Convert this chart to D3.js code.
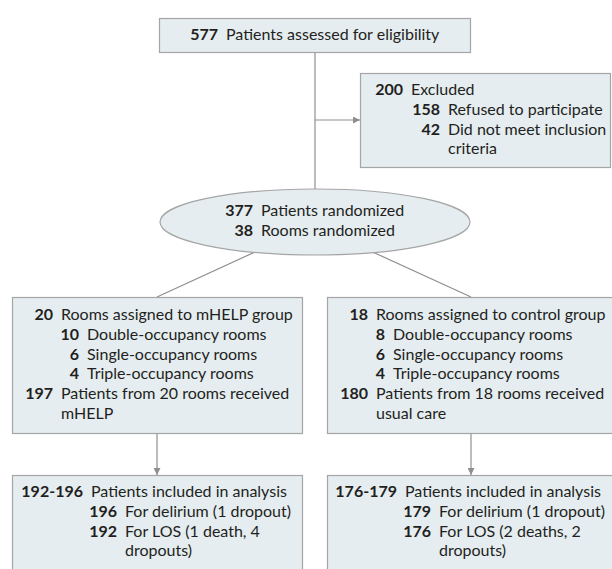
<!DOCTYPE html>
<html>
<head>
<meta charset="utf-8">
<script src="https://cdn.jsdelivr.net/npm/d3@7"></script>
<style>
  body { margin: 0; background: #fff; }
  svg text { font-family: Lato, "Open Sans", sans-serif; font-size: 16px; fill: #231f20; }
  svg text.num { font-weight: bold; text-anchor: end; }
</style>
</head>
<body>
<div id="chart"></div>
<script>
// Flow data: [count, label, level]  ("\n" = wrapped line in the picture)
var assessed = [["577", "Patients assessed for eligibility", 0]];
var excluded = [
    ["200", "Excluded", 0],
    ["158", "Refused to participate", 1],
    ["42", "Did not meet inclusion\ncriteria", 1]
];
var randomized = [
    ["377", "Patients randomized", 0],
    ["38", "Rooms randomized", 0]
];
var helpGroup = [
    ["20", "Rooms assigned to mHELP group", 0],
    ["10", "Double-occupancy rooms", 1],
    ["6", "Single-occupancy rooms", 1],
    ["4", "Triple-occupancy rooms", 1],
    ["197", "Patients from 20 rooms received\nmHELP", 0]
];
var controlGroup = [
    ["18", "Rooms assigned to control group", 0],
    ["8", "Double-occupancy rooms", 1],
    ["6", "Single-occupancy rooms", 1],
    ["4", "Triple-occupancy rooms", 1],
    ["180", "Patients from 18 rooms received\nusual care", 0]
];
var helpAnalysis = [
    ["192-196", "Patients included in analysis", 0],
    ["196", "For delirium (1 dropout)", 1],
    ["192", "For LOS (1 death, 4\ndropouts)", 1]
];
var controlAnalysis = [
    ["176-179", "Patients included in analysis", 0],
    ["179", "For delirium (1 dropout)", 1],
    ["176", "For LOS (2 deaths, 2\ndropouts)", 1]
];

//Setup
var width = 612, height = 569;
var boxFill = "#e5edf1", boxStroke = "#a5a5a5", lineColor = "#8f8f8f";
var lineH = 19.8;

var svg = d3.select("#chart").append("svg")
    .attr("width", width)
    .attr("height", height);

// layout: box rect, first baseline, number right edge per level
var layout = {
    assessed:  { x: 159, y: 18, w: 311, h: 34, base: 40, num: [218, 218] },
    excluded:  { x: 360, y: 73, w: 250, h: 94, base: 95, num: [403, 440] },
    helpGroup: { x: 12, y: 297, w: 290, h: 136, base: 320, num: [53, 79] },
    controlGroup: { x: 327, y: 297, w: 288, h: 136, base: 320, num: [368, 385] },
    helpAnalysis: { x: 12, y: 475, w: 290, h: 100, base: 497, num: [83, 117] },
    controlAnalysis: { x: 327, y: 475, w: 288, h: 100, base: 497, num: [397, 431] },
    randomized: { cx: 315, cy: 222, rx: 155, ry: 33, base: 216, num: [253, 253] }
};

// connectors first so boxes sit on top
var defs = svg.append("defs");
defs.append("marker")
    .attr("id", "arrow")
    .attr("viewBox", "0 0 10 10")
    .attr("refX", 10).attr("refY", 5)
    .attr("markerWidth", 7).attr("markerHeight", 7)
    .attr("markerUnits", "userSpaceOnUse")
    .attr("orient", "auto")
    .append("path")
    .attr("d", "M0,0 L10,5 L0,10 Z")
    .attr("fill", lineColor);

var links = svg.append("g").attr("stroke", lineColor).attr("stroke-width", 1.2).attr("fill", "none");
var R = layout.randomized;
links.append("line").attr("x1", 315).attr("y1", 52).attr("x2", 315).attr("y2", R.cy - R.ry);
links.append("line").attr("x1", 315).attr("y1", 120).attr("x2", 360).attr("y2", 120)
    .attr("marker-end", "url(#arrow)");

function ellipseY(x) {
    var dx = (x - R.cx) / R.rx;
    return R.cy + R.ry * Math.sqrt(1 - dx * dx);
}
var lx = 256, rx = 372;
links.append("line").attr("x1", lx).attr("y1", ellipseY(lx) - 1).attr("x2", 157).attr("y2", 297);
links.append("line").attr("x1", rx).attr("y1", ellipseY(rx) - 1).attr("x2", 471).attr("y2", 297);
links.append("line").attr("x1", 157).attr("y1", 433).attr("x2", 157).attr("y2", 475)
    .attr("marker-end", "url(#arrow)");
links.append("line").attr("x1", 471).attr("y1", 433).attr("x2", 471).attr("y2", 475)
    .attr("marker-end", "url(#arrow)");

function drawBox(rows, L) {
    var g = svg.append("g");
    g.append("rect")
        .attr("x", L.x + 0.5).attr("y", L.y + 0.5)
        .attr("width", L.w).attr("height", L.h)
        .attr("fill", boxFill).attr("stroke", boxStroke).attr("stroke-width", 1.2);
    drawRows(g, rows, L);
}

function drawRows(g, rows, L) {
    var line = 0;
    rows.forEach(function (r) {
        var numX = L.num[r[2]];
        var y = L.base + line * lineH;
        g.append("text").attr("class", "num").attr("x", numX).attr("y", y).text(r[0]);
        r[1].split("\n").forEach(function (part, i) {
            g.append("text").attr("x", numX + 8).attr("y", L.base + (line + i) * lineH).text(part);
        });
        line += r[1].split("\n").length;
    });
}

drawBox(assessed, layout.assessed);
drawBox(excluded, layout.excluded);

var eg = svg.append("g");
eg.append("ellipse")
    .attr("cx", R.cx).attr("cy", R.cy).attr("rx", R.rx).attr("ry", R.ry)
    .attr("fill", boxFill).attr("stroke", boxStroke).attr("stroke-width", 1.2);
drawRows(eg, randomized, R);

drawBox(helpGroup, layout.helpGroup);
drawBox(controlGroup, layout.controlGroup);
drawBox(helpAnalysis, layout.helpAnalysis);
drawBox(controlAnalysis, layout.controlAnalysis);
</script>
</body>
</html>
